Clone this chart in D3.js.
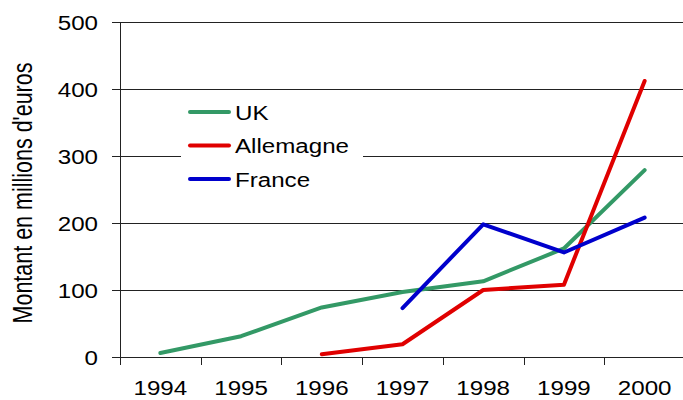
<!DOCTYPE html>
<html><head><meta charset="utf-8">
<script src="https://cdn.jsdelivr.net/npm/d3@7"></script>
<style>body{margin:0;background:#fff}text{font-family:Arial,"Liberation Sans",sans-serif;fill:#000}</style>
</head><body>
<svg id="c" width="683" height="400"></svg>
<script>
const years = ["1994","1995","1996","1997","1998","1999","2000"];
const ukValues = [6, 31, 74, 97, 113, 162, 279];
const allemagneValues = [null, null, 4, 19, 100, 108, 412];
const franceValues = [null, null, null, 73, 198, 156, 208];
const seriesNames = ["UK", "Allemagne", "France"];
const seriesColors = ["#339966", "#e00000", "#0000cc"];
const yTicks = [0, 100, 200, 300, 400, 500];
const yTitle = "Montant en millions d'euros";

(function () {
const svg = d3.select("#c");
const pL = 120, pR = 685, pT = 22, pB = 357;
const SX = 1.15, FS = 21;
const x = d3.scaleBand().domain(years).range([pL, pR]).padding(0);
const y = d3.scaleLinear().domain([0, 500]).range([pB, pT]);

// gridlines
svg.append("g").selectAll("line").data(yTicks).join("line")
  .attr("x1", pL - 8).attr("x2", 683)
  .attr("y1", d => Math.round(y(d)) + 0.5).attr("y2", d => Math.round(y(d)) + 0.5)
  .attr("stroke", "#222").attr("stroke-width", 1);

// y axis line
svg.append("line").attr("x1", pL + 0.5).attr("x2", pL + 0.5)
  .attr("y1", pT).attr("y2", pB + 7).attr("stroke", "#222");

// x ticks at band boundaries
const bounds = years.map(d => x(d));
svg.append("g").selectAll("line").data(bounds).join("line")
  .attr("x1", d => Math.round(d) + 0.5).attr("x2", d => Math.round(d) + 0.5)
  .attr("y1", pB).attr("y2", pB + 8).attr("stroke", "#222");

// y tick labels
svg.append("g").selectAll("text").data(yTicks).join("text")
  .attr("transform", d => `translate(98,${y(d)}) scale(${SX},1)`)
  .attr("text-anchor", "end").attr("dy", "0.36em")
  .attr("font-size", FS).text(d => d);

// x labels
svg.append("g").selectAll("text").data(years).join("text")
  .attr("transform", d => `translate(${x(d) + x.bandwidth() / 2},395) scale(${SX},1)`)
  .attr("text-anchor", "middle").attr("font-size", FS).text(d => d);

// y title
svg.append("text")
  .attr("transform", `translate(32,193) scale(1.25,1) rotate(-90)`)
  .attr("text-anchor", "middle").attr("font-size", 21.5).text(yTitle);

// lines
const allSeries = [ukValues, allemagneValues, franceValues];
const line = d3.line()
  .defined(d => d.v != null)
  .x(d => x(d.year) + x.bandwidth() / 2)
  .y(d => y(d.v));
allSeries.forEach((vals, i) => {
  svg.append("path")
    .datum(years.map((yr, j) => ({year: yr, v: vals[j]})))
    .attr("d", line).attr("fill", "none")
    .attr("stroke", seriesColors[i]).attr("stroke-width", 4)
    .attr("stroke-linecap", "round").attr("stroke-linejoin", "round");
});

// legend
svg.append("rect").attr("x", 181).attr("y", 96).attr("width", 182).attr("height", 100).attr("fill", "#fff");
const lg = svg.append("g").selectAll("g").data(seriesNames).join("g")
  .attr("transform", (d, i) => `translate(0,${112 + i * 33.5})`);
lg.append("line").attr("x1", 190).attr("x2", 229).attr("y1", 0).attr("y2", 0)
  .attr("stroke", (d, i) => seriesColors[i]).attr("stroke-width", 4).attr("stroke-linecap", "round");
lg.append("text").attr("transform", `translate(235,0) scale(${SX},1)`)
  .attr("dy", "0.36em").attr("font-size", FS).text(d => d);
})();
</script>
</body></html>
